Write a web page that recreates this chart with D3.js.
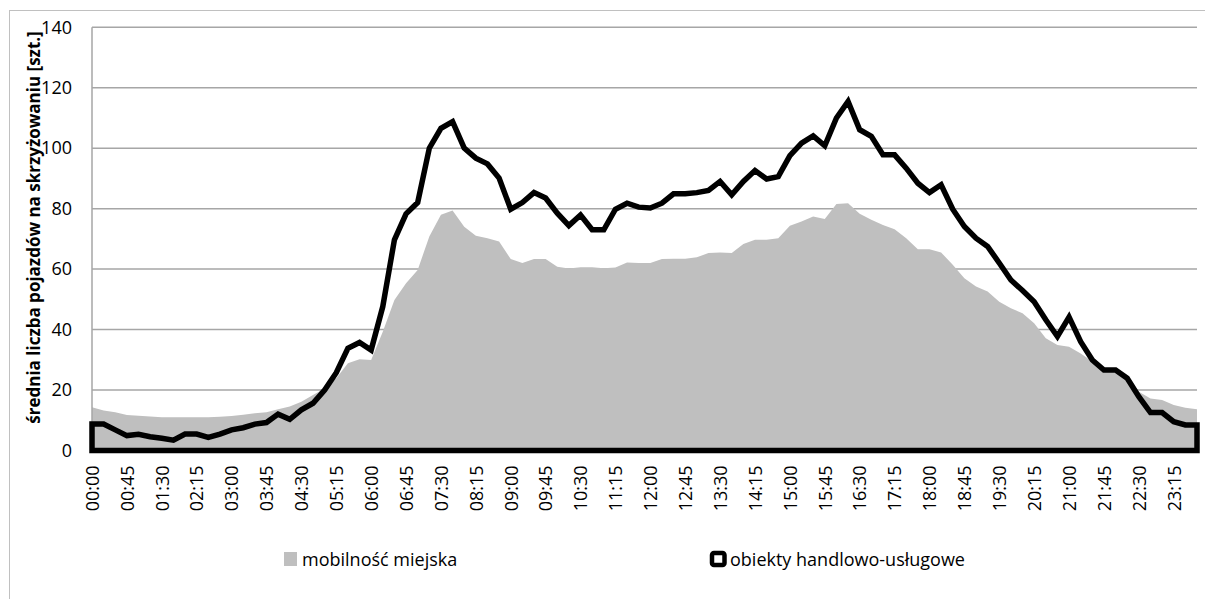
<!DOCTYPE html>
<html>
<head>
<meta charset="utf-8">
<script src="https://cdn.jsdelivr.net/npm/d3@7"></script>
<style>
    body { margin: 0; background: #fff; }
    svg { display: block; font-family: "Open Sans", Lato, sans-serif; }
</style>
</head>
<body>
<div id="chart"></div>
<script>
// quarter-hour slots, 00:00 .. 23:45
var times = [
    "00:00","00:15","00:30","00:45","01:00","01:15","01:30","01:45","02:00","02:15","02:30","02:45",
    "03:00","03:15","03:30","03:45","04:00","04:15","04:30","04:45","05:00","05:15","05:30","05:45",
    "06:00","06:15","06:30","06:45","07:00","07:15","07:30","07:45","08:00","08:15","08:30","08:45",
    "09:00","09:15","09:30","09:45","10:00","10:15","10:30","10:45","11:00","11:15","11:30","11:45",
    "12:00","12:15","12:30","12:45","13:00","13:15","13:30","13:45","14:00","14:15","14:30","14:45",
    "15:00","15:15","15:30","15:45","16:00","16:15","16:30","16:45","17:00","17:15","17:30","17:45",
    "18:00","18:15","18:30","18:45","19:00","19:15","19:30","19:45","20:00","20:15","20:30","20:45",
    "21:00","21:15","21:30","21:45","22:00","22:15","22:30","22:45","23:00","23:15","23:30","23:45"
];

// labels shown on the x axis (every 45 minutes)
var tickLabels = [
    "00:00","00:45","01:30","02:15","03:00","03:45","04:30","05:15","06:00","06:45","07:30","08:15",
    "09:00","09:45","10:30","11:15","12:00","12:45","13:30","14:15","15:00","15:45","16:30","17:15",
    "18:00","18:45","19:30","20:15","21:00","21:45","22:30","23:15"
];

var yTicks = [0, 20, 40, 60, 80, 100, 120, 140];

var seriesNames = ["mobilność miejska", "obiekty handlowo-usługowe"];

// mobilność miejska (grey area)
var mobilnosc = [
    14.3, 13.2, 12.6, 11.7, 11.5, 11.2, 11, 11, 11, 11, 11, 11.1, 11.4, 11.8, 12.3, 12.6,
    13.6, 14.5, 16.1, 18.3, 20.5, 23.9, 28.8, 30.2, 29.9, 39.3, 49.8, 55.3, 59.7, 70.8, 78, 79.4,
    74, 71, 70.2, 69.1, 63.3, 62, 63.3, 63.3, 60.8, 60.2, 60.6, 60.6, 60.3, 60.5, 62.2, 62,
    62, 63.3, 63.4, 63.4, 63.9, 65.3, 65.5, 65.3, 68.3, 69.7, 69.7, 70.2, 74.3, 75.7, 77.4, 76.6,
    81.5, 81.8, 78.3, 76.3, 74.6, 73.2, 70.2, 66.6, 66.6, 65.5, 61.4, 57, 54.2, 52.6, 49.2, 47,
    45.4, 42.1, 37.1, 34.9, 34.3, 32.1, 29.4, 27, 26, 24.5, 19.4, 17.2, 16.7, 15, 14.1, 13.6
];

// obiekty handlowo-uslugowe (black outlined area)
var obiekty = [
    8.7, 8.7, 6.8, 4.9, 5.3, 4.5, 4, 3.4, 5.4, 5.4, 4.3, 5.4, 6.8, 7.5, 8.7, 9.2,
    12, 10.3, 13.4, 15.6, 20, 25.7, 33.8, 35.7, 33.2, 47.6, 69.7, 78.3, 82, 100, 106.6, 108.8,
    100, 96.7, 94.8, 90.1, 79.8, 82, 85.3, 83.5, 78.5, 74.4, 77.9, 73, 73, 79.8, 81.8, 80.5,
    80.2, 81.8, 84.9, 84.9, 85.3, 86, 89, 84.6, 89, 92.6, 89.8, 90.6, 97.5, 101.7, 104.1, 100.8,
    110, 115.5, 106.1, 103.9, 97.8, 97.8, 93.4, 88.4, 85.3, 87.9, 79.8, 74.1, 70.2, 67.5, 62, 56.4,
    52.9, 49.2, 43.2, 37.7, 44.1, 36, 29.9, 26.6, 26.6, 23.9, 17.8, 12.5, 12.5, 9.5, 8.4, 8.4
];

function draw(){
    var W = 1205, H = 599;
    var margin = {top: 27.3, right: 8, bottom: 148.6, left: 92};
    var width = W - margin.left - margin.right,
        height = H - margin.top - margin.bottom;

    var svg = d3.select("#chart")
        .append("svg")
            .attr("width", W)
            .attr("height", H);

    // outer chart border
    svg.append("rect")
        .attr("x", 9.5).attr("y", 10.5)
        .attr("width", W + 10).attr("height", H + 10)
        .attr("fill", "none")
        .attr("stroke", "#c0c0c0");

    var g = svg.append("g")
        .attr("transform", "translate(" + margin.left + "," + margin.top + ")");

    var x = d3.scalePoint()
        .domain(times)
        .range([0, width]);

    var y = d3.scaleLinear()
        .domain([0, 140])
        .range([height, 0]);

    // grid lines
    g.append("g")
        .selectAll("line")
        .data(yTicks.filter(function(d){ return d > 0; }))
        .enter()
        .append("line")
            .attr("x1", 0).attr("x2", width)
            .attr("y1", function(d){ return y(d); })
            .attr("y2", function(d){ return y(d); })
            .attr("stroke", "#a6a6a6")
            .attr("stroke-width", 1.5);

    // grey area
    var area = function(vals){
        return d3.area()
            .x(function(d, i){ return x(times[i]); })
            .y0(y(0))
            .y1(function(d){ return y(d); })(vals);
    };

    g.append("path")
        .attr("d", area(mobilnosc))
        .attr("fill", "#bfbfbf");

    // y axis line
    g.append("line")
        .attr("x1", 0).attr("x2", 0)
        .attr("y1", 0).attr("y2", height)
        .attr("stroke", "#a6a6a6")
        .attr("stroke-width", 1.5);

    // x axis baseline
    g.append("line")
        .attr("x1", 0).attr("x2", width)
        .attr("y1", height + 1).attr("y2", height + 1)
        .attr("stroke", "#808080")
        .attr("stroke-width", 1.5);

    // black outlined area
    g.append("path")
        .attr("d", area(obiekty))
        .attr("fill", "none")
        .attr("stroke", "#000")
        .attr("stroke-width", 5.5)
        .attr("stroke-linejoin", "miter")
        .attr("stroke-miterlimit", 4);

    // y tick labels
    var yAxis = g.append("g")
        .call(d3.axisLeft(y).tickValues(yTicks).tickSize(0).tickPadding(20));
    yAxis.select(".domain").remove();
    yAxis.selectAll("text")
        .attr("font-family", "'Open Sans', Lato, sans-serif")
        .attr("font-size", 18)
        .attr("fill", "#000");

    // x tick labels
    var xAxis = g.append("g")
        .attr("transform", "translate(0," + height + ")")
        .call(d3.axisBottom(x).tickValues(tickLabels).tickSize(0));
    xAxis.select(".domain").remove();
    xAxis.selectAll("text")
        .attr("font-family", "'Open Sans', Lato, sans-serif")
        .attr("font-size", 18)
        .attr("fill", "#000")
        .attr("text-anchor", "end")
        .attr("transform", "rotate(-90)")
        .attr("x", -15)
        .attr("y", 0)
        .attr("dy", "0.35em");

    // y axis title
    svg.append("text")
        .attr("transform", "translate(40,227.5) rotate(-90)")
        .attr("text-anchor", "middle")
        .attr("font-size", 17)
        .attr("font-weight", "bold")
        .attr("fill", "#000")
        .text("średnia liczba pojazdów na skrzyżowaniu [szt.]");

    // legend
    var leg = svg.append("g");
    leg.append("rect")
        .attr("x", 284).attr("y", 552)
        .attr("width", 13).attr("height", 14)
        .attr("fill", "#bfbfbf");
    leg.append("text")
        .attr("x", 302).attr("y", 566)
        .attr("font-size", 18)
        .attr("fill", "#000")
        .text(seriesNames[0]);

    leg.append("rect")
        .attr("x", 712).attr("y", 553)
        .attr("width", 12.5).attr("height", 12)
        .attr("rx", 2)
        .attr("fill", "#fff")
        .attr("stroke", "#000")
        .attr("stroke-width", 4.5);
    leg.append("text")
        .attr("x", 730).attr("y", 566)
        .attr("font-size", 18)
        .attr("fill", "#000")
        .text(seriesNames[1]);
}

draw();
</script>
</body>
</html>
